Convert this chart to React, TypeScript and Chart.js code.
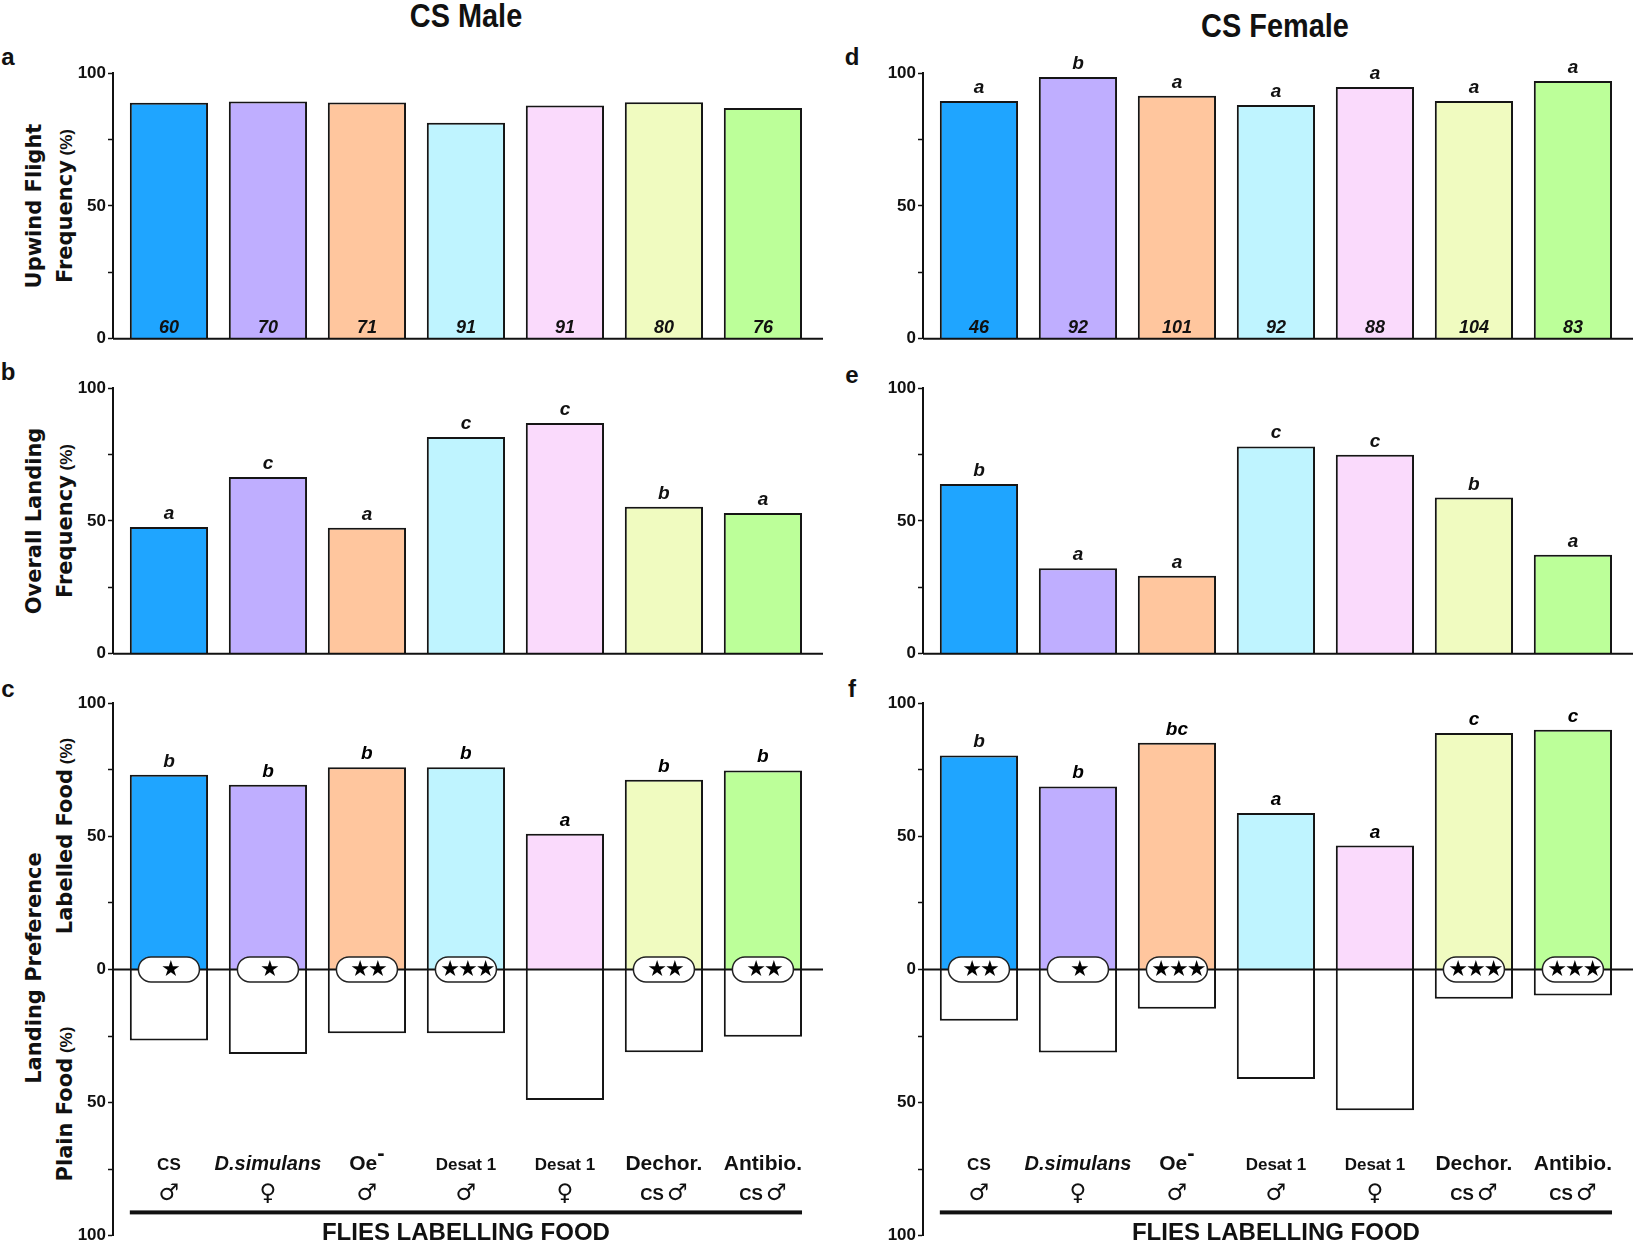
import React, { useEffect, useRef } from 'react';
import { Chart, registerables } from 'chart.js';

Chart.register(...registerables);

const FONT = "'Liberation Sans', Arial, Helvetica, sans-serif";
const WIDE = "'DejaVu Sans', Verdana, sans-serif";

// ---------------- data ----------------
const categoryNames = ['CS', 'D.simulans', 'Oe⁻', 'Desat 1', 'Desat 1', 'Dechor.', 'Antibio.'];
const categorySex = ['♂', '♀', '♂', '♂', '♀', 'CS ♂', 'CS ♂'];
const barColors = ['#1fa5ff', '#bfaeff', '#ffc69e', '#bff4ff', '#fadafc', '#f0fbc0', '#bcff99'];

const maleUpwind = [88.8, 89.3, 88.9, 81.3, 87.8, 89.0, 86.8];
const maleUpwindN = ['60', '70', '71', '91', '91', '80', '76'];

const femaleUpwind = [89.5, 98.5, 91.4, 88.0, 94.7, 89.5, 97.0];
const femaleUpwindN = ['46', '92', '101', '92', '88', '104', '83'];
const femaleUpwindLetters = ['a', 'b', 'a', 'a', 'a', 'a', 'a'];

const maleLanding = [47.7, 66.5, 47.4, 81.6, 86.8, 55.3, 53.0];
const maleLandingLetters = ['a', 'c', 'a', 'c', 'c', 'b', 'a'];

const femaleLanding = [63.9, 32.2, 29.4, 78.0, 74.9, 58.8, 37.3];
const femaleLandingLetters = ['b', 'a', 'a', 'c', 'c', 'b', 'a'];

const maleLabelled = [73.1, 69.3, 75.9, 75.9, 50.9, 71.2, 74.7];
const malePlain = [26.7, 31.8, 24.0, 24.0, 49.0, 31.1, 25.3];
const malePrefLetters = ['b', 'b', 'b', 'b', 'a', 'b', 'b'];
const maleStars = [1, 1, 2, 3, 0, 2, 2];

const femaleLabelled = [80.3, 68.7, 85.1, 58.7, 46.5, 88.7, 90.0];
const femalePlain = [19.3, 31.2, 14.8, 41.1, 52.9, 11.0, 9.8];
const femalePrefLetters = ['b', 'b', 'bc', 'a', 'a', 'c', 'c'];
const femaleStars = [2, 1, 3, 0, 0, 3, 3];

const yTicksMain = [0, 50, 100];
const xAxisTitle = 'FLIES LABELLING FOOD';

// ---------------- layout ----------------
const Y_AXIS_W = 50;
const PAD_TOP = 30;
const PAD_BOTTOM = 12;
const PAD_RIGHT = 3;
const PLOT_W = 710;
const SHORT_H = 266;
const TALL_H = 533;
const X_MIN = -0.565;
const X_MAX = 6.607;

type PanelDef = {
  id: string;
  axisX: number;
  top: number;
  values: number[];
  plain?: number[];
  letters?: string[];
  counts?: string[];
  stars?: number[];
};

function labelFont(name: string) {
  if (name.startsWith('D.')) return `italic bold 20px ${FONT}`;
  if (name === 'CS' || name.startsWith('Desat')) return `bold 17px ${FONT}`;
  return `bold 21px ${FONT}`;
}

function drawLine1(ctx: CanvasRenderingContext2D, name: string, x: number, y: number) {
  let main = name;
  let sup = '';
  if (name.endsWith('⁻')) {
    main = name.slice(0, -1);
    sup = '-';
  }
  const mainFont = labelFont(main);
  const supFont = `bold 22px ${FONT}`;
  ctx.font = mainFont;
  const w = ctx.measureText(main).width;
  let sw = 0;
  if (sup) {
    ctx.font = supFont;
    sw = ctx.measureText(sup).width;
  }
  const start = x - (w + sw) / 2;
  ctx.textAlign = 'left';
  ctx.font = mainFont;
  ctx.fillText(main, start, y);
  if (sup) {
    ctx.font = supFont;
    ctx.fillText(sup, start + w, y - 10);
  }
}

function drawLine2(ctx: CanvasRenderingContext2D, text: string, x: number, y: number) {
  const parts = text.split(' ');
  const symFont = `23px ${WIDE}`;
  const csFont = `bold 17px ${FONT}`;
  ctx.textAlign = 'left';
  if (parts.length === 1) {
    ctx.font = symFont;
    ctx.textAlign = 'center';
    ctx.fillText(parts[0], x, y);
    return;
  }
  ctx.font = csFont;
  const w1 = ctx.measureText(parts[0]).width;
  ctx.font = symFont;
  const w2 = ctx.measureText(parts[1]).width;
  const gap = 3;
  const start = x - (w1 + gap + w2) / 2;
  ctx.font = csFont;
  ctx.fillText(parts[0], start, y);
  ctx.font = symFont;
  ctx.fillText(parts[1], start + w1 + gap, y);
}

function annotations(def: PanelDef) {
  return {
    id: 'annotations_' + def.id,
    afterDatasetsDraw(chart: any) {
      const ctx: CanvasRenderingContext2D = chart.ctx;
      const meta = chart.getDatasetMeta(0);
      const yScale = chart.scales.y;
      const area = chart.chartArea;
      const zero = yScale.getPixelForValue(0);
      ctx.save();
      // zero / baseline line on top of the bars
      ctx.strokeStyle = '#111';
      ctx.lineWidth = 2;
      ctx.beginPath();
      ctx.moveTo(area.left, zero);
      ctx.lineTo(area.right, zero);
      ctx.stroke();

      ctx.fillStyle = '#111';
      ctx.textBaseline = 'alphabetic';
      meta.data.forEach((bar: any, i: number) => {
        const p = bar.getProps(['x', 'y', 'width'], true);
        if (def.letters && def.letters[i]) {
          ctx.font = `italic bold 19px ${FONT}`;
          ctx.textAlign = 'center';
          ctx.fillText(def.letters[i], p.x, p.y - 8);
        }
        if (def.counts && def.counts[i]) {
          ctx.font = `italic bold 18px ${FONT}`;
          ctx.textAlign = 'center';
          ctx.fillText(def.counts[i], p.x, zero - 6);
        }
        if (def.stars && def.stars[i] > 0) {
          const w = 61;
          const h = 25;
          ctx.beginPath();
          (ctx as any).roundRect(p.x - w / 2, zero - h / 2, w, h, h / 2);
          ctx.fillStyle = '#fff';
          ctx.fill();
          ctx.lineWidth = 1.5;
          ctx.strokeStyle = '#222';
          ctx.stroke();
          ctx.fillStyle = '#000';
          ctx.font = `22px ${WIDE}`;
          ctx.textAlign = 'center';
          ctx.textBaseline = 'middle';
          (ctx as any).letterSpacing = '-2px';
          ctx.fillText('★'.repeat(def.stars[i]), p.x + 1, zero + 1);
          (ctx as any).letterSpacing = '0px';
          ctx.textBaseline = 'alphabetic';
        }
      });
      if (def.plain) {
        ctx.fillStyle = '#111';
        meta.data.forEach((bar: any, i: number) => {
          const p = bar.getProps(['x'], true);
          drawLine1(ctx, categoryNames[i], p.x, zero + 201);
          drawLine2(ctx, categorySex[i], p.x, zero + 231);
        });
        const first = meta.data[0].getProps(['x', 'width'], true);
        const last = meta.data[meta.data.length - 1].getProps(['x', 'width'], true);
        ctx.fillRect(first.x - first.width / 2, zero + 241, last.x + last.width / 2 - (first.x - first.width / 2), 4);
        const mid = meta.data[3].getProps(['x'], true);
        ctx.font = `bold 24px ${FONT}`;
        ctx.textAlign = 'center';
        ctx.fillText(xAxisTitle, mid.x, zero + 271);
      }
      ctx.restore();
    },
  };
}

function buildConfig(def: PanelDef): any {
  const common = {
    borderColor: '#151515',
    borderWidth: 2,
    borderSkipped: 'start',
    barPercentage: 0.79,
    categoryPercentage: 1,
    inflateAmount: 0,
  };
  const datasets: any[] = [
    { data: def.values.map((v, i) => ({ x: i, y: v })), backgroundColor: barColors, ...common },
  ];
  if (def.plain) {
    datasets.push({ data: def.plain.map((v, i) => ({ x: i, y: -v })), backgroundColor: '#ffffff', ...common });
  }
  return {
    type: 'bar',
    data: { datasets },
    options: {
      animation: false,
      responsive: false,
      devicePixelRatio: 1,
      events: [],
      layout: { padding: { top: PAD_TOP, bottom: PAD_BOTTOM, left: 0, right: PAD_RIGHT } },
      plugins: { legend: { display: false }, tooltip: { enabled: false } },
      scales: {
        x: {
          type: 'linear',
          min: X_MIN,
          max: X_MAX,
          display: false,
          stacked: true,
          offset: false,
          ticks: { stepSize: 1, includeBounds: false },
        },
        y: {
          min: def.plain ? -100 : 0,
          max: 100,
          stacked: true,
          afterFit: (s: any) => {
            s.width = Y_AXIS_W;
          },
          border: { display: true, color: '#111', width: 2 },
          grid: {
            drawOnChartArea: false,
            drawTicks: true,
            tickLength: 5,
            tickColor: '#111',
            tickWidth: 1.5,
          },
          ticks: {
            stepSize: 25,
            padding: 2,
            color: '#111',
            font: { family: FONT, weight: 'bold', size: 17 },
            callback: (v: number) => (yTicksMain.includes(Math.abs(v)) ? String(Math.abs(v)) : ''),
          },
        },
      },
    },
    plugins: [annotations(def)],
  };
}

function BarPanel({ def }: { def: PanelDef }) {
  const ref = useRef<HTMLCanvasElement>(null);
  useEffect(() => {
    const chart = new Chart(ref.current as HTMLCanvasElement, buildConfig(def));
    return () => chart.destroy();
  }, [def]);
  const w = Y_AXIS_W + PLOT_W + PAD_RIGHT;
  const h = PAD_TOP + (def.plain ? TALL_H : SHORT_H) + PAD_BOTTOM;
  return (
    <canvas
      ref={ref}
      width={w}
      height={h}
      style={{ position: 'absolute', left: def.axisX - Y_AXIS_W, top: def.top - PAD_TOP, width: w, height: h }}
    />
  );
}

const panels: PanelDef[] = [
  { id: 'a', axisX: 113, top: 73, values: maleUpwind, counts: maleUpwindN },
  { id: 'd', axisX: 923, top: 73, values: femaleUpwind, counts: femaleUpwindN, letters: femaleUpwindLetters },
  { id: 'b', axisX: 113, top: 388, values: maleLanding, letters: maleLandingLetters },
  { id: 'e', axisX: 923, top: 388, values: femaleLanding, letters: femaleLandingLetters },
  { id: 'c', axisX: 113, top: 703, values: maleLabelled, plain: malePlain, letters: malePrefLetters, stars: maleStars },
  { id: 'f', axisX: 923, top: 703, values: femaleLabelled, plain: femalePlain, letters: femalePrefLetters, stars: femaleStars },
];

function Txt({ x, y, children, style, rotate }: any) {
  return (
    <div
      style={{
        position: 'absolute',
        left: x,
        top: y,
        transform: `translate(-50%, -50%)${rotate ? ' rotate(-90deg)' : ''}`,
        whiteSpace: 'nowrap',
        lineHeight: 1,
        color: '#111',
        ...style,
      }}
    >
      {children}
    </div>
  );
}

const axisTitleStyle = { fontFamily: WIDE, fontWeight: 'bold', fontSize: 21 };
const pct = <span style={{ fontFamily: FONT, fontWeight: 'bold', fontSize: 17 }}> (%)</span>;

export default function App() {
  return (
    <div
      style={{
        position: 'absolute',
        left: 0,
        top: 0,
        width: 1636,
        height: 1243,
        overflow: 'hidden',
        background: '#fff',
      }}
    >
      <Txt x={466} y={15} style={{ fontFamily: FONT, fontWeight: 'bold', fontSize: 34, transform: 'translate(-50%,-50%) scaleX(0.85)' }}>
        CS Male
      </Txt>
      <Txt x={1275} y={25} style={{ fontFamily: FONT, fontWeight: 'bold', fontSize: 34, transform: 'translate(-50%,-50%) scaleX(0.85)' }}>
        CS Female
      </Txt>

      {[
        ['a', 8, 57],
        ['b', 8, 372],
        ['c', 8, 689],
        ['d', 852, 57],
        ['e', 852, 375],
        ['f', 852, 689],
      ].map(([t, x, y]) => (
        <Txt key={t as string} x={x} y={y} style={{ fontFamily: FONT, fontWeight: 'bold', fontSize: 24 }}>
          {t}
        </Txt>
      ))}

      <Txt x={34} y={206} rotate style={axisTitleStyle}>Upwind Flight</Txt>
      <Txt x={65} y={206} rotate style={axisTitleStyle}>Frequency{pct}</Txt>
      <Txt x={34} y={521} rotate style={axisTitleStyle}>Overall Landing</Txt>
      <Txt x={65} y={521} rotate style={axisTitleStyle}>Frequency{pct}</Txt>
      <Txt x={34} y={968} rotate style={axisTitleStyle}>Landing Preference</Txt>
      <Txt x={65} y={836} rotate style={axisTitleStyle}>Labelled Food{pct}</Txt>
      <Txt x={65} y={1104} rotate style={axisTitleStyle}>Plain Food{pct}</Txt>

      {panels.map((p) => (
        <BarPanel key={p.id} def={p} />
      ))}
    </div>
  );
}
